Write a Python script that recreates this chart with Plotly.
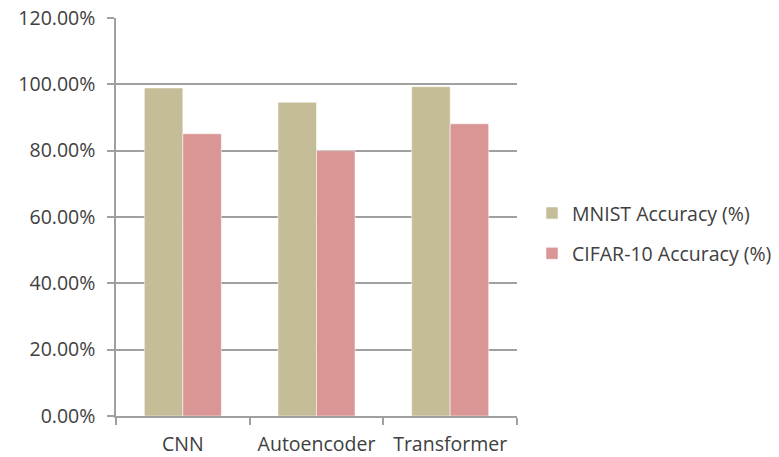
import plotly.graph_objects as go

categories = ["CNN", "Autoencoder", "Transformer"]
mnist = [0.989, 0.946, 0.993]
cifar = [0.851, 0.800, 0.881]
series_names = ["MNIST Accuracy (%)", "CIFAR-10 Accuracy (%)"]
y_ticks = [0, 0.2, 0.4, 0.6, 0.8, 1.0, 1.2]

FONT = "Open Sans"
TXT = "#404040"
GRID = "#A0A0A0"

fig = go.Figure()
fig.add_trace(go.Bar(x=categories, y=mnist, name=series_names[0],
                     marker=dict(color="#C4BD97", line=dict(color="rgba(255,255,255,0.5)", width=1)),
                     legendgroup="a"))
fig.add_trace(go.Bar(x=categories, y=cifar, name=series_names[1],
                     marker=dict(color="#D99694", line=dict(color="rgba(255,255,255,0.5)", width=1)),
                     legendgroup="b"))

W, H = 779, 457
l, r, t, b = 116, 262, 18, 41
fig.update_layout(
    width=W, height=H,
    margin=dict(l=l, r=r, t=t, b=b, autoexpand=False),
    paper_bgcolor="white", plot_bgcolor="white",
    barmode="group", bargap=0.424, bargroupgap=0,
    font=dict(family=FONT, size=19.5, color=TXT),
    showlegend=True,
    legend=dict(x=(532 - l) / (W - l - r), xanchor="left",
                y=0.459, yanchor="middle",
                traceorder="grouped", tracegroupgap=12,
                font=dict(family=FONT, size=19.5, color=TXT),
                bgcolor="rgba(0,0,0,0)"),
)
fig.update_yaxes(range=[0, 1.2], tickvals=y_ticks, tickformat=".2%",
                 showgrid=True, gridcolor=GRID, gridwidth=1.5,
                 showline=True, linecolor=GRID, linewidth=1.5,
                 ticks="outside", ticklen=7, tickcolor=GRID, tickwidth=1.5,
                 ticklabelstandoff=8, zeroline=False)
fig.update_xaxes(showline=True, linecolor=GRID, linewidth=1.5,
                 ticks="outside", ticklen=7, tickcolor=GRID, tickwidth=1.5,
                 tickson="boundaries", ticklabelstandoff=10, showgrid=False)

fig.write_html("out.html", config={"displayModeBar": False},
               post_script="document.body.style.margin='0';document.body.style.padding='0';")
